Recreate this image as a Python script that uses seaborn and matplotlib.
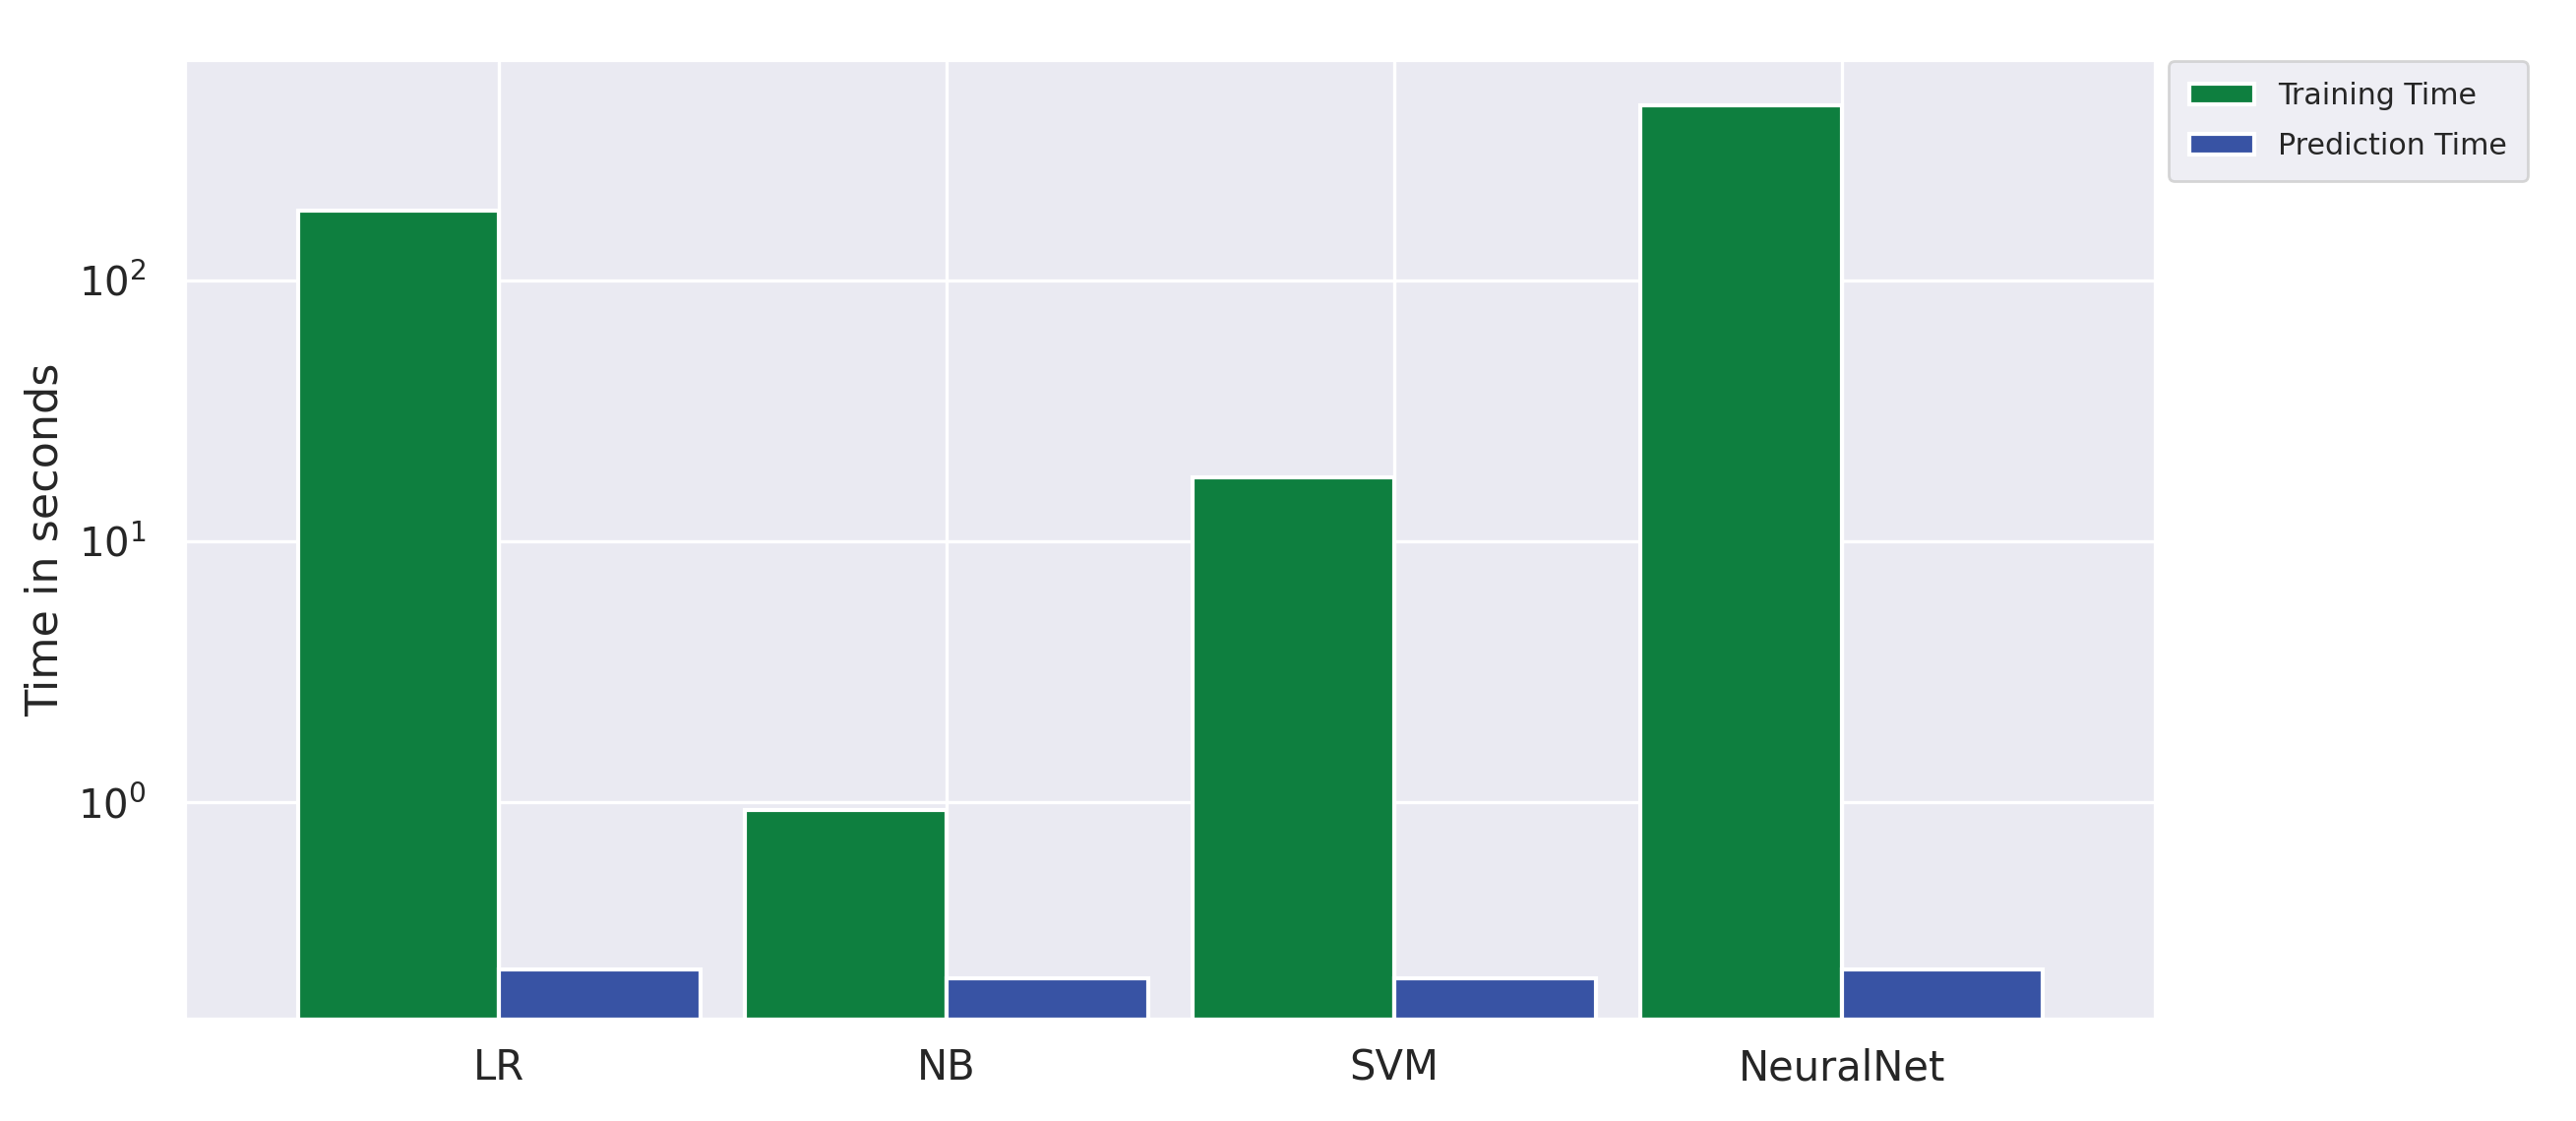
import pandas as pd
import seaborn as sns
import matplotlib
matplotlib.use("Agg")
import matplotlib.pyplot as plt

models = ["LR", "NB", "SVM", "NeuralNet"]
training_time = [184, 0.93, 17.6, 470]
prediction_time = [0.229, 0.211, 0.211, 0.229]
series = ["Training Time", "Prediction Time"]
colors = ["#0e7f3f", "#3853a4"]

df = pd.DataFrame({
    "model": models * 2,
    "kind": [series[0]] * 4 + [series[1]] * 4,
    "seconds": training_time + prediction_time,
})

sns.set_style("darkgrid")

fig = plt.figure(figsize=(13.09, 5.695), dpi=200)
ax = fig.add_axes([0.0722, 0.0913, 0.7643, 0.8543])

sns.barplot(data=df, x="model", y="seconds", hue="kind", palette=colors,
            saturation=1, width=0.9, gap=0, edgecolor="white", linewidth=1.5,
            ax=ax)

ax.set_yscale("log")
ax.set_ylim(0.148, 692)
ax.set_xlim(-0.7, 3.7)
ax.minorticks_off()
ax.grid(True, axis="both", color="white", linewidth=1.2)
ax.set_axisbelow(True)

ax.set_xlabel("")
ax.set_ylabel("Time in seconds", fontsize=16, color=".15", labelpad=4)
ax.tick_params(axis="x", labelsize=15, colors=".15", pad=7)
ax.tick_params(axis="y", labelsize=14.5, colors=".15", pad=11)

ax.legend(title=None, loc="upper left", bbox_to_anchor=(1.007, 1.0),
          borderaxespad=0, fontsize=10.8, frameon=True, labelspacing=0.75,
          handlelength=2.2, borderpad=0.7)

fig.savefig("out.png", dpi=200)
